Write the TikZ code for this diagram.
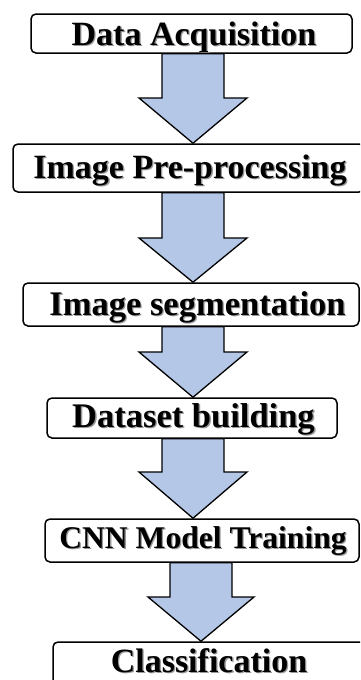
\documentclass[tikz,border=0pt]{standalone}
\usepackage{fontspec}
\setmainfont{Liberation Serif}
\usetikzlibrary{calc}
\definecolor{arrowblue}{RGB}{180,199,231}
\newcommand\shadowtext[2]{{\fontsize{#1}{#1}\selectfont\bfseries\makebox[0pt][l]{\hspace{1.3pt}\raisebox{-1.3pt}{\color{black!40}#2}}#2}}
\newcommand\flowarrow[6]{%
  \draw[barrow] let \p1=(#1.south), \p2=(#2.north) in
   ({#3pt-#4pt},\y1) -- ({#3pt+#4pt},\y1) -- ({#3pt+#4pt},-#6pt) -- ({#3pt+#5pt},-#6pt)
   -- (#3pt,\y2) -- ({#3pt-#5pt},-#6pt) -- ({#3pt-#4pt},-#6pt) -- cycle;}
\begin{document}
\begin{tikzpicture}[
  box/.style={draw=black, line width=1.5pt, rounded corners=5pt, fill=white, inner sep=0pt},
  lbl/.style={anchor=base, inner sep=0pt},
  barrow/.style={draw=black, line width=1.3pt, fill=arrowblue, line join=miter}
]
\useasboundingbox (0,0) rectangle (360pt,-680pt);
\clip (0,0) rectangle (360pt,-680pt);
% boxes
\node[box, minimum width=321pt, minimum height=39pt] (b1) at (191.5pt,-33.5pt) {};
\node[box, minimum width=351pt, minimum height=48pt] (b2) at (188.5pt,-168pt) {};
\node[box, minimum width=336pt, minimum height=43pt] (b3) at (191pt,-304.5pt) {};
\node[box, minimum width=290pt, minimum height=40pt] (b4) at (192pt,-418pt) {};
\node[box, minimum width=314pt, minimum height=43pt] (b5) at (202pt,-540.5pt) {};
\node[box, minimum width=312pt, minimum height=50pt] (b6) at (209pt,-667pt) {};
% labels
\node[lbl] (t1) at (194pt,-45pt) {\shadowtext{34pt}{Data Acquisition}};
\node[lbl] (t2) at (190pt,-178pt) {\shadowtext{34pt}{Image Pre-processing}};
\node[lbl] (t3) at (197.5pt,-315pt) {\shadowtext{34.5pt}{Image segmentation}};
\node[lbl] (t4) at (193.5pt,-427pt) {\shadowtext{34.5pt}{Dataset building}};
\node[lbl] (t5) at (203pt,-548pt) {\shadowtext{31.6pt}{CNN Model Training}};
\node[lbl] (t6) at (209pt,-672pt) {\shadowtext{34pt}{Classification}};
% arrows
\flowarrow{b1}{b2}{193}{31}{54}{98}
\flowarrow{b2}{b3}{193}{31}{54}{238}
\flowarrow{b3}{b4}{193}{31}{54}{352}
\flowarrow{b4}{b5}{193}{31}{54}{472}
\flowarrow{b5}{b6}{201}{31}{53}{597}
\end{tikzpicture}
\end{document}
